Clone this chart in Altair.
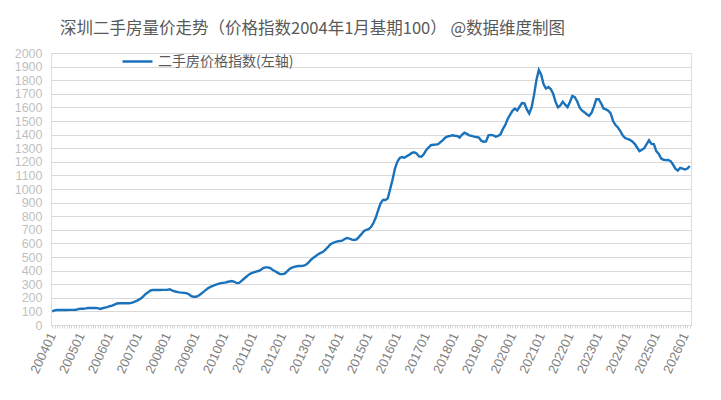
import altair as alt
import pandas as pd

TITLE = "深圳二手房量价走势（价格指数2004年1月基期100） @数据维度制图"
SERIES = "二手房价格指数(左轴)"

years = list(range(2004, 2027))
v2004 = [100, 108, 110, 110, 110, 110, 110, 111, 111, 111, 112, 118]
v2005 = [119, 120, 122, 125, 125, 125, 126, 124, 118, 123, 128, 132]
v2006 = [138, 142, 150, 158, 160, 160, 160, 160, 160, 163, 168, 175]
v2007 = [185, 195, 210, 228, 240, 254, 257, 257, 257, 257, 258, 258]
v2008 = [258, 262, 255, 248, 244, 240, 238, 236, 234, 226, 213, 208]
v2009 = [208, 215, 228, 242, 256, 270, 280, 287, 295, 300, 306, 310]
v2010 = [312, 316, 320, 323, 318, 308, 310, 325, 340, 355, 370, 380]
v2011 = [387, 392, 397, 405, 418, 424, 424, 418, 405, 395, 385, 375]
v2012 = [374, 378, 395, 412, 422, 428, 432, 434, 434, 436, 445, 460]
v2013 = [480, 495, 508, 520, 530, 538, 555, 572, 592, 603, 610, 615]
v2014 = [618, 620, 632, 640, 635, 628, 625, 630, 648, 668, 690, 700]
v2015 = [705, 720, 750, 790, 845, 895, 920, 919, 931, 1000, 1070, 1150]
v2016 = [1201, 1228, 1235, 1230, 1242, 1252, 1265, 1270, 1262, 1240, 1238, 1255]
v2017 = [1285, 1305, 1322, 1325, 1326, 1330, 1345, 1360, 1378, 1386, 1390, 1395]
v2018 = [1392, 1390, 1378, 1400, 1414, 1405, 1395, 1390, 1385, 1382, 1378, 1355]
v2019 = [1348, 1350, 1395, 1398, 1395, 1385, 1390, 1402, 1440, 1470, 1515, 1545]
v2020 = [1575, 1592, 1578, 1605, 1632, 1630, 1585, 1555, 1600, 1690, 1800, 1875]
v2021 = [1840, 1770, 1738, 1750, 1735, 1700, 1640, 1600, 1615, 1642, 1620, 1602]
v2022 = [1640, 1685, 1676, 1645, 1600, 1578, 1565, 1550, 1538, 1560, 1605, 1660]
v2023 = [1660, 1630, 1592, 1585, 1575, 1556, 1500, 1470, 1452, 1425, 1395, 1375]
v2024 = [1368, 1362, 1350, 1332, 1305, 1278, 1288, 1300, 1330, 1358, 1332, 1330]
v2025 = [1278, 1260, 1225, 1215, 1212, 1213, 1205, 1180, 1150, 1135, 1155, 1150]
v2026 = [1143, 1150, 1169]

yearly = [v2004, v2005, v2006, v2007, v2008, v2009, v2010, v2011, v2012, v2013,
          v2014, v2015, v2016, v2017, v2018, v2019, v2020, v2021, v2022, v2023,
          v2024, v2025, v2026]

rows = []
for y, vals in zip(years, yearly):
    for m, v in enumerate(vals, start=1):
        rows.append({"month": f"{y}{m:02d}", "value": v, "series": SERIES})
df = pd.DataFrame(rows)
month_order = list(df["month"])

FONT = "Noto Sans CJK SC"
NUMFONT = "Liberation Sans"

chart = alt.Chart(df).mark_line(strokeWidth=2.4).encode(
    x=alt.X("month:O", sort=month_order,
            scale=alt.Scale(type="point", padding=0.5),
            axis=alt.Axis(title=None, labelAngle=295, labelFontSize=13,
                          labelColor="#7f7f7f", labelFont=NUMFONT,
                          labelExpr="substring(datum.value, 4) == '01' ? datum.value : ''",
                          labelOverlap=False, labelPadding=5,
                          domainColor="#d9d9d9", tickColor="#d9d9d9", tickSize=3,
                          grid=False)),
    y=alt.Y("value:Q", scale=alt.Scale(domain=[0, 2000], nice=False),
            axis=alt.Axis(title=None, values=list(range(0, 2001, 100)), format="d",
                          labelFontSize=12.5, labelColor="#bfbfbf", labelFont=NUMFONT,
                          labelOverlap=False,
                          domain=False, ticks=False, labelPadding=9,
                          gridColor="#d9d9d9", gridWidth=1)),
    color=alt.Color("series:N",
                    scale=alt.Scale(range=["#1A72BB"]),
                    legend=alt.Legend(title=None, orient="none", legendX=70, legendY=-8,
                                      symbolType="stroke", symbolSize=900,
                                      symbolStrokeWidth=2.5, labelFontSize=14,
                                      labelColor="#595959", labelFont=FONT,
                                      labelOffset=4, padding=0)),
).properties(
    width=640, height=272,
    title=alt.TitleParams(TITLE, anchor="start", frame="group", fontSize=16.5,
                          font=FONT, fontWeight="normal", color="#595959",
                          dx=9, offset=8),
    autosize=alt.AutoSizeParams(type="none"),
    padding={"left": 43, "top": 45, "right": 20, "bottom": 60},
).configure_view(stroke=None).configure(background="white")

chart.save("out.html", embed_options={"renderer": "svg", "actions": False})
